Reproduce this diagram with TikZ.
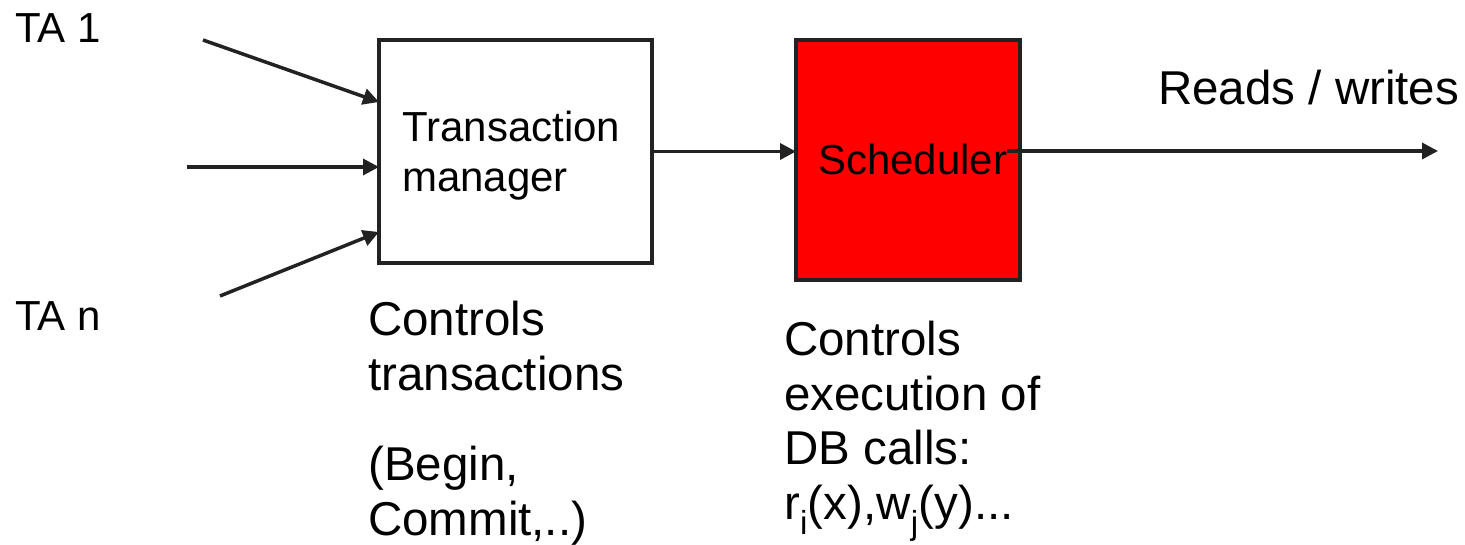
\documentclass[tikz,border=0pt]{standalone}
\usepackage{fontspec}
\setmainfont{Liberation Sans}
\usetikzlibrary{arrows.meta}
\definecolor{ink}{HTML}{222222}
\definecolor{schedred}{HTML}{FF0000}
\tikzset{
  box/.style={draw=ink, line width=3.5pt, inner sep=0pt, outer sep=0pt},
  conn/.style={draw=ink, line width=3.5pt, -{Triangle[length=16pt,width=16pt]}},
  lbl/.style={inner sep=0pt, anchor=base west, align=left, text=black},
  big/.style={font=\fontsize{42}{50}\selectfont},
  huge/.style={font=\fontsize{47.5}{54.5}\selectfont},
}
\begin{document}
\begin{tikzpicture}[x=1pt, y=-1pt]
\useasboundingbox (0,0) rectangle (1465,545);
% boxes
\node[box, minimum width=273pt, minimum height=223pt] (tm) at (515.5,151.5) {};
\node[box, fill=schedred, minimum width=224pt, minimum height=240pt] (sch) at (908,160) {};
% texts (base anchor = baseline of the last line)
\node[lbl, big] (ta1) at (15,43) {TA 1};
\node[lbl, big] (tan) at (15,331) {TA n};
\node[lbl, big] (tmtext) at (402,192) {Transaction\\manager};
\node[lbl, big] (schtext) at (818,175) {Scheduler};
\node[lbl, huge] (rw) at (1158,105) {Reads / writes};
\node[lbl, huge] (tmdesc) at (368,535) {Controls\\transactions\\[36pt](Begin,\\Commit,..)};
\node[lbl, huge] (schdesc) at (784,519) {Controls\\execution of\\DB calls:\\r\textsubscript{i}(x),w\textsubscript{j}(y)...};
% connector ends
\coordinate (s1) at (203,40);
\coordinate (s2) at (187,167);
\coordinate (s3) at (220,296);
\coordinate (y1) at (0,102);
\coordinate (y2) at (0,167);
\coordinate (y3) at (0,232);
\coordinate (o1) at (1007,151);
\coordinate (o2) at (1438,151);
% connectors
\draw[conn] (s1) -- (tm.west |- y1);
\draw[conn] (s2) -- (tm.west |- y2);
\draw[conn] (s3) -- (tm.west |- y3);
\draw[conn] (tm.east) -- (tm.east -| sch.west);
\draw[conn] (o1) -- (o2);
\end{tikzpicture}
\end{document}
